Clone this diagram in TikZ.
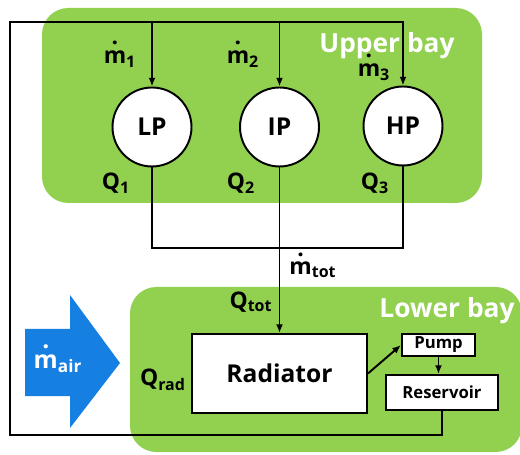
\documentclass[tikz,border=0pt]{standalone}
\usepackage{fontspec}
\setmainfont{Open Sans}
\usepackage{xcolor}
\usetikzlibrary{arrows.meta,positioning,calc}

\definecolor{baygreen}{RGB}{146,208,80}
\definecolor{airblue}{RGB}{22,128,226}
% m with a dot above (flow rate)
\newcommand{\mdt}{\leavevmode\hbox{\ooalign{m\cr\hidewidth\raisebox{0.8em}{.}\hidewidth\cr}}}

\begin{document}
\begin{tikzpicture}[
  x=0.02cm, y=-0.02cm,
  >={Latex[length=5pt,width=4pt]},
  bay/.style={fill=baygreen, rounded corners=15pt},
  turb/.style={draw, circle, line width=1.1pt, fill=white, minimum size=1.58cm, inner sep=0pt, font=\bfseries\fontsize{14}{14}\selectfont},
  unit/.style={draw, line width=1.1pt, fill=white, inner sep=0pt, font=\bfseries\fontsize{#1}{#1}\selectfont},
  pipe/.style={line width=1.1pt},
  arr/.style={->, line width=1.1pt},
  lbl/.style={font=\bfseries\fontsize{13}{13}\selectfont, inner sep=0pt},
  baylbl/.style={font=\bfseries\fontsize{15}{15}\selectfont, text=white, inner sep=0pt}
]
\useasboundingbox (0,0) rectangle (520,455);

% bays
\fill[bay] (42,8) rectangle (482,203);
\fill[bay] (130,287) rectangle (522,452);
\node[baylbl] (upper) at (387,46) {Upper bay};
\node[baylbl] (lower) at (447,311) {Lower bay};

% turbines
\node[turb] (lp) at (152,127) {LP};
\node[turb] (ip) at (279.5,127) {IP};
\node[turb] (hp) at (403,126) {HP};

% lower bay components
\node[unit=14, minimum width=3.5cm, minimum height=1.58cm] (rad) at (279.5,373.5) {Radiator};
\node[unit=9.5, minimum width=1.46cm, minimum height=0.44cm] (pump) at (438.5,345) {Pump};
\node[unit=9.5, minimum width=2.24cm, minimum height=0.7cm] (res) at (442,392.5) {Reservoir};

% air inflow
\fill[airblue] (25,329) -- (70,329) -- (70,295) -- (120,363) -- (70,428) -- (70,396) -- (25,396) -- cycle;
\node[font=\bfseries\fontsize{14}{14}\selectfont, text=white, inner sep=0pt] (air) at (58,364) {\mdt\textsubscript{air}};

% cooling loop
\coordinate (bl) at (10,435);
\coordinate (tl) at (10,22);
\coordinate (col) at (0,248);
\draw[arr] (res.south) |- (bl) -- (tl) -| (hp.north);
\draw[arr] (lp.north |- tl) -- (lp.north);
\draw[arr] (ip.north |- tl) -- (ip.north);
\draw[pipe] (lp.south) -- (lp.south |- col) -| (hp.south);
\draw[arr] (ip.south) -- (rad.north);
\draw[arr] (rad.east) -- (pump.west);
\draw[arr] (pump.south) -- (pump.south |- res.north);

% labels
\node[lbl] (m1) at (120,59) {\mdt\textsubscript{1}};
\node[lbl] (m2) at (243,59) {\mdt\textsubscript{2}};
\node[lbl] (m3) at (374,72) {\mdt\textsubscript{3}};
\node[lbl] (q1) at (116,183) {Q\textsubscript{1}};
\node[lbl] (q2) at (241,183) {Q\textsubscript{2}};
\node[lbl] (q3) at (375,183) {Q\textsubscript{3}};
\node[lbl] (mtot) at (313,270) {\mdt\textsubscript{tot}};
\node[lbl] (qtot) at (251,302) {Q\textsubscript{tot}};
\node[lbl] (qrad) at (163,380) {Q\textsubscript{rad}};
\end{tikzpicture}
\end{document}
